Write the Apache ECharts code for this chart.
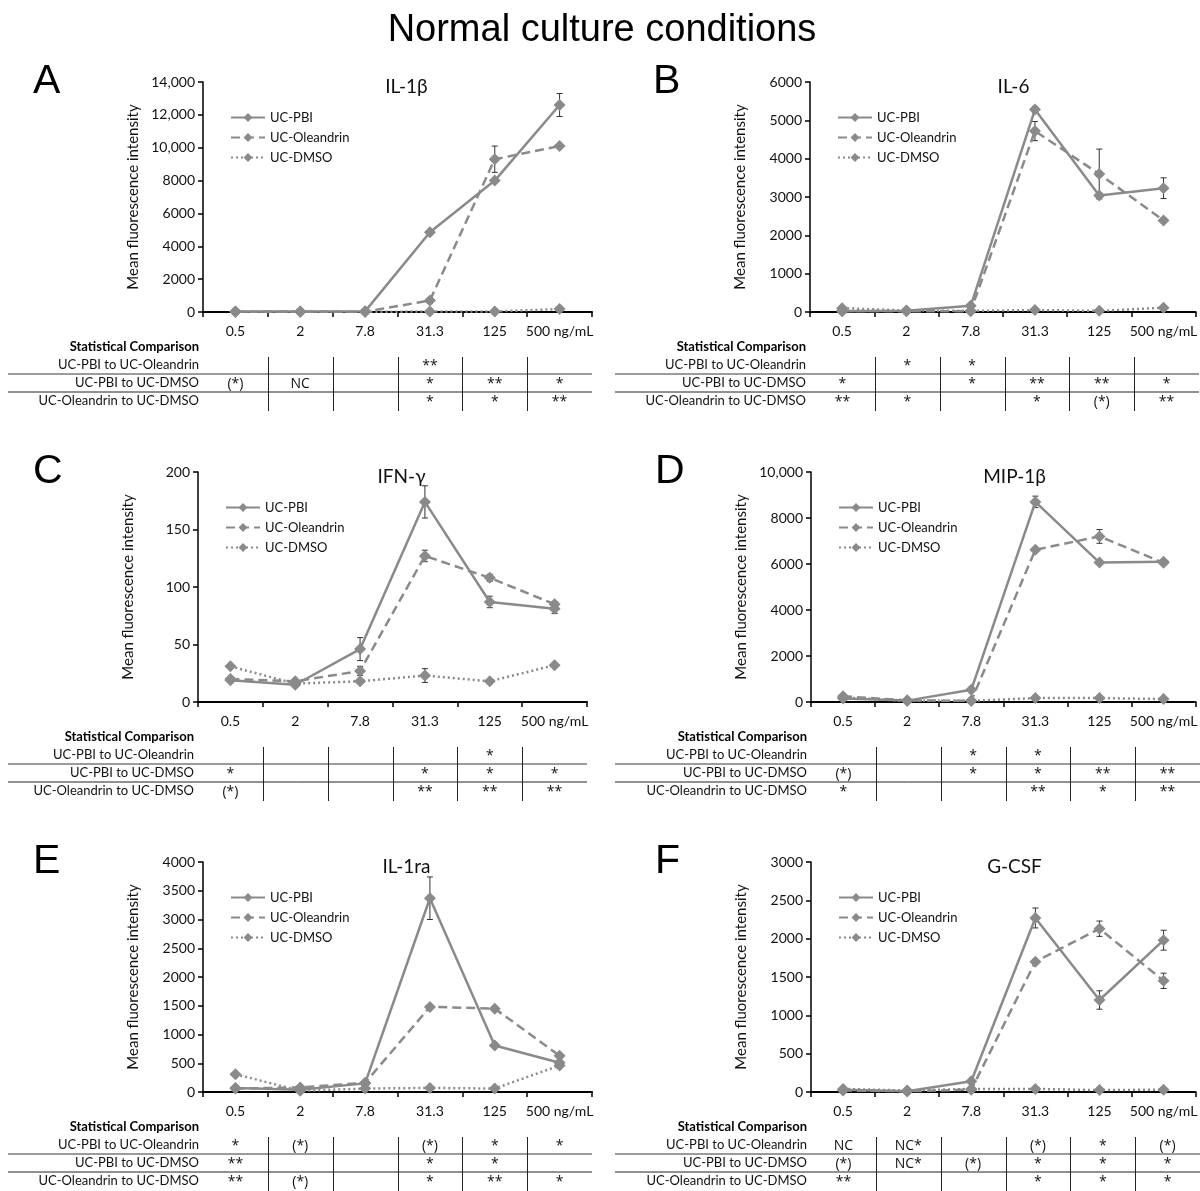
<!DOCTYPE html>
<html>
<head>
<meta charset="utf-8">
<title>Normal culture conditions</title>
<script src="https://cdn.jsdelivr.net/npm/echarts@6/dist/echarts.min.js"></script>
<style>
    html, body { margin: 0; padding: 0; background: #ffffff; }
    #chart { width: 1200px; height: 1191px; }
</style>
</head>
<body>
<div id="chart"></div>
<script>
// categories and labels
var categories = ['0.5', '2', '7.8', '31.3', '125', '500 ng/mL'];
var seriesNames = ['UC-PBI', 'UC-Oleandrin', 'UC-DMSO'];
var comparisonLabels = ['UC-PBI to UC-Oleandrin', 'UC-PBI to UC-DMSO', 'UC-Oleandrin to UC-DMSO'];

// IL-1β  (rows: PBI, Oleandrin, DMSO)
var il1bValues = [[30, 30, 40, 4850, 8000, 12600], [20, 20, 20, 700, 9300, 10100], [10, 10, 10, 30, 30, 180]];
var il1bErrors = [[0, 0, 0, 100, 100, 700], [0, 0, 0, 150, 800, 100], [0, 0, 0, 0, 0, 0]];
var il1bStats = [['', '', '', '**', '', ''], ['(*)', 'NC', '', '*', '**', '*'], ['', '', '', '*', '*', '**']];

// IL-6
var il6Values = [[20, 30, 160, 5280, 3040, 3230], [30, 20, 20, 4720, 3600, 2390], [100, 40, 30, 50, 30, 110]];
var il6Errors = [[0, 0, 0, 80, 60, 270], [0, 0, 0, 250, 650, 60], [0, 0, 0, 0, 0, 0]];
var il6Stats = [['', '*', '*', '', '', ''], ['*', '', '*', '**', '**', '*'], ['**', '*', '', '*', '(*)', '**']];

// IFN-γ
var ifngValues = [[19, 15, 46, 174, 87, 81], [20, 18, 27, 127, 108, 85], [31, 16, 18, 23, 18, 32]];
var ifngErrors = [[1, 1, 10, 14, 5, 4], [1, 1, 4, 5, 3, 2], [1, 1, 1, 6, 1, 1]];
var ifngStats = [['', '', '', '', '*', ''], ['*', '', '', '*', '*', '*'], ['(*)', '', '', '**', '**', '**']];

// MIP-1β
var mip1bValues = [[150, 60, 530, 8700, 6060, 6100], [250, 70, 50, 6620, 7200, 6050], [200, 50, 50, 170, 170, 130]];
var mip1bErrors = [[20, 10, 30, 250, 60, 60], [20, 10, 10, 80, 300, 80], [0, 0, 0, 0, 0, 0]];
var mip1bStats = [['', '', '*', '*', '', ''], ['(*)', '', '*', '*', '**', '**'], ['*', '', '', '**', '*', '**']];

// IL-1ra
var il1raValues = [[70, 40, 150, 3370, 810, 510], [60, 80, 160, 1480, 1450, 630], [310, 20, 60, 70, 60, 460]];
var il1raErrors = [[10, 10, 20, 370, 40, 30], [10, 10, 20, 40, 30, 40], [20, 5, 5, 10, 10, 30]];
var il1raStats = [['*', '(*)', '', '(*)', '*', '*'], ['**', '', '', '*', '*', ''], ['**', '(*)', '', '*', '**', '*']];

// G-CSF
var gcsfValues = [[30, 10, 140, 2270, 1200, 1980], [20, 10, 30, 1700, 2130, 1450], [40, 20, 40, 40, 25, 30]];
var gcsfErrors = [[5, 5, 10, 130, 120, 130], [5, 5, 5, 30, 100, 100], [5, 5, 5, 5, 5, 5]];
var gcsfStats = [['NC', 'NC*', '', '(*)', '*', '(*)'], ['(*)', 'NC*', '(*)', '*', '*', '*'], ['**', '', '', '*', '*', '*']];

/**
 * panel layout
 */
var panels = [
    {letter: 'A', title: 'IL-1β', values: il1bValues, errors: il1bErrors, stats: il1bStats, max: 14000, interval: 2000, left: 203, top: 82, letterX: 28, tableLeft: 8},
    {letter: 'B', title: 'IL-6', values: il6Values, errors: il6Errors, stats: il6Stats, max: 6000, interval: 1000, left: 810, top: 82, letterX: 648, tableLeft: 615},
    {letter: 'C', title: 'IFN-γ', values: ifngValues, errors: ifngErrors, stats: ifngStats, max: 200, interval: 50, left: 198, top: 472, letterX: 28, tableLeft: 8},
    {letter: 'D', title: 'MIP-1β', values: mip1bValues, errors: mip1bErrors, stats: mip1bStats, max: 10000, interval: 2000, left: 811, top: 472, letterX: 650, tableLeft: 615},
    {letter: 'E', title: 'IL-1ra', values: il1raValues, errors: il1raErrors, stats: il1raStats, max: 4000, interval: 500, left: 203, top: 862, letterX: 28, tableLeft: 8},
    {letter: 'F', title: 'G-CSF', values: gcsfValues, errors: gcsfErrors, stats: gcsfStats, max: 3000, interval: 500, left: 811, top: 862, letterX: 650, tableLeft: 615}
];

var PLOT_W = 389;
var PLOT_H = 230;
var GRAY = '#8a8a8a';
var FONT = 'Lato, "Open Sans", sans-serif';
var lineTypes = ['solid', [9, 5], [2, 3]];

function formatTick(v) {
    if (v >= 10000) {
        return v.toLocaleString('en-US');
    }
    return String(v);
}

function errorBarRenderer(params, api) {
    var x = api.value(0);
    var v = api.value(1);
    var e = api.value(2);
    if (!e) {
        return null;
    }
    var hi = api.coord([x, v + e]);
    var lo = api.coord([x, v - e]);
    var cap = 3;
    var st = {stroke: '#333333', lineWidth: 1};
    return {
        type: 'group',
        children: [
            {type: 'line', shape: {x1: hi[0], y1: hi[1], x2: lo[0], y2: lo[1]}, style: st},
            {type: 'line', shape: {x1: hi[0] - cap, y1: hi[1], x2: hi[0] + cap, y2: hi[1]}, style: st},
            {type: 'line', shape: {x1: lo[0] - cap, y1: lo[1], x2: lo[0] + cap, y2: lo[1]}, style: st}
        ]
    };
}

var titles = [{
    text: 'Normal culture conditions',
    left: 597, top: 7, textAlign: 'center',
    textStyle: {fontFamily: '"Liberation Sans", Arial', fontSize: 38, fontWeight: 'normal', color: '#000'}
}];
var grids = [], xAxes = [], yAxes = [], legends = [], series = [], graphics = [];

for (var i = 0; i < panels.length; i++) {
    var p = panels[i];
    var zeroY = p.top + PLOT_H;
    var step = PLOT_W / categories.length;

    titles.push({
        text: p.letter, left: p.letterX, top: p.top - 26,
        textStyle: {fontFamily: '"Liberation Sans", Arial', fontSize: 41, fontWeight: 'normal', color: '#000'}
    });
    titles.push({
        text: p.title, left: p.left + PLOT_W / 2 + 4, top: p.top - 10, textAlign: 'center',
        textStyle: {fontFamily: FONT, fontSize: 19, fontWeight: 'normal', color: '#111'}
    });

    grids.push({left: p.left, top: p.top, width: PLOT_W, height: PLOT_H, containLabel: false});

    xAxes.push({
        type: 'category', gridIndex: i, data: categories, boundaryGap: true,
        axisLine: {lineStyle: {color: '#000', width: 2}},
        axisTick: {show: true, length: 5, inside: false, lineStyle: {color: '#000', width: 1.5}},
        axisLabel: {fontFamily: FONT, fontSize: 14, color: '#111', margin: 12, interval: 0},
        splitLine: {show: false}
    });

    yAxes.push({
        type: 'value', gridIndex: i, min: 0, max: p.max, interval: p.interval,
        name: 'Mean fluorescence intensity', nameLocation: 'middle', nameGap: 62,
        nameTextStyle: {fontFamily: FONT, fontSize: 15, color: '#111'},
        axisLine: {show: true, lineStyle: {color: '#000', width: 1.5}},
        axisTick: {show: true, length: 5, lineStyle: {color: '#000', width: 1.5}},
        axisLabel: {fontFamily: FONT, fontSize: 14, color: '#111', margin: 8, formatter: formatTick},
        splitLine: {show: false}
    });

    legends.push({
        data: seriesNames, orient: 'vertical', left: p.left + 22, top: p.top + 24,
        itemWidth: 34, itemHeight: 11, itemGap: 7,
        textStyle: {fontFamily: FONT, fontSize: 13, color: '#111'}
    });

    for (var k = 0; k < seriesNames.length; k++) {
        series.push({
            type: 'line', name: seriesNames[k], xAxisIndex: i, yAxisIndex: i,
            data: p.values[k], symbol: 'diamond', symbolSize: 12,
            itemStyle: {color: GRAY},
            lineStyle: {color: GRAY, width: 2.5, type: lineTypes[k]},
            z: 3, animation: false
        });
        series.push({
            type: 'custom', xAxisIndex: i, yAxisIndex: i, silent: true,
            renderItem: errorBarRenderer, z: 2, animation: false,
            data: p.values[k].map(function (v, j) { return [j, v, this[j]]; }, p.errors[k])
        });
    }

    // statistical comparison table
    var labelX = p.left - 4;
    graphics.push({
        type: 'text', style: {x: labelX, y: zeroY + 35, text: 'Statistical Comparison', textAlign: 'right', textVerticalAlign: 'middle',
            font: 'bold 13px ' + FONT, fill: '#000'}
    });
    for (var r = 0; r < comparisonLabels.length; r++) {
        var rowY = zeroY + 53 + r * 18;
        graphics.push({
            type: 'text', style: {x: labelX, y: rowY, text: comparisonLabels[r], textAlign: 'right', textVerticalAlign: 'middle',
                font: '13px ' + FONT, fill: '#111'}
        });
        for (var c = 0; c < categories.length; c++) {
            if (p.stats[r][c]) {
                graphics.push({
                    type: 'text', style: {x: p.left + (c + 0.5) * step, y: rowY + 1, text: p.stats[r][c], textAlign: 'center',
                        textVerticalAlign: 'middle', font: '14px "Open Sans", ' + FONT, fill: '#111'}
                });
            }
        }
    }
    graphics.push({
        type: 'line', shape: {x1: p.tableLeft, y1: zeroY + 62, x2: p.left + PLOT_W, y2: zeroY + 62},
        style: {stroke: '#7a7a7a', lineWidth: 1.5}
    });
    graphics.push({
        type: 'line', shape: {x1: p.tableLeft, y1: zeroY + 80, x2: p.left + PLOT_W, y2: zeroY + 80},
        style: {stroke: '#222', lineWidth: 1}
    });
    for (var c2 = 1; c2 < categories.length; c2++) {
        var vx = Math.round(p.left + c2 * step) + 0.5;
        graphics.push({
            type: 'line', shape: {x1: vx, y1: zeroY + 45, x2: vx, y2: zeroY + 99},
            style: {stroke: '#222', lineWidth: 1}
        });
    }
}

var chart = echarts.init(document.getElementById('chart'));
chart.setOption({
    backgroundColor: '#ffffff',
    animation: false,
    title: titles,
    legend: legends,
    grid: grids,
    xAxis: xAxes,
    yAxis: yAxes,
    series: series,
    graphic: graphics
});
</script>
</body>
</html>
